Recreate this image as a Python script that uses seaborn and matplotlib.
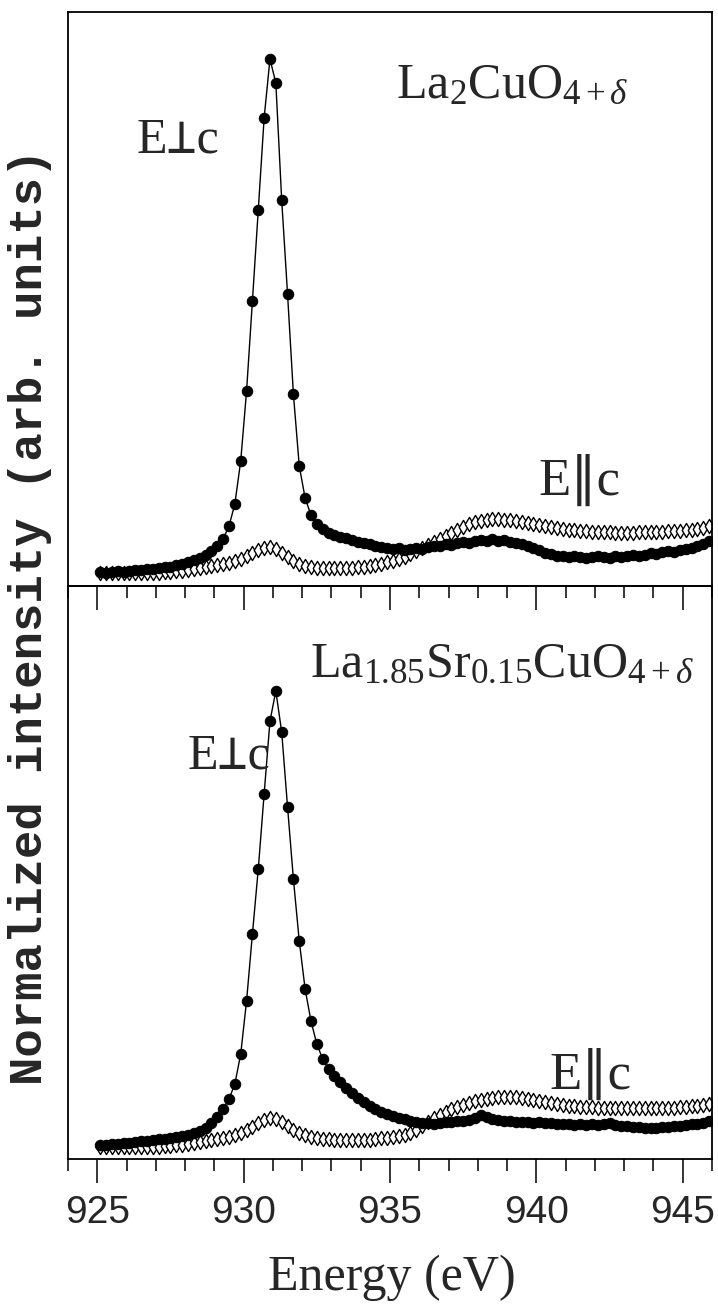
import matplotlib
matplotlib.use('Agg')
import numpy as np
import matplotlib.pyplot as plt
import seaborn as sns
from matplotlib.ticker import MultipleLocator

# measurement grid (eV), 0.2 eV steps
energy = np.round(np.arange(925.1, 945.95, 0.2), 1)

# La2CuO4+d, intensities in arb. units
top_perp = [14, 13, 14, 15, 14, 15, 16, 16, 17, 17,
            18, 19, 19, 21, 22, 24, 26, 28, 31, 35,
            40, 47, 60, 82, 125, 195, 285, 376, 468, 527,
            503, 386, 292, 192, 120, 88, 71, 62, 57, 53,
            51, 49, 48, 46, 44, 43, 42, 40, 39, 38,
            37, 38, 36, 37, 38, 37, 39, 40, 40, 42,
            41, 43, 44, 43, 45, 46, 45, 47, 45, 46,
            44, 43, 42, 40, 38, 36, 33, 32, 30, 30,
            29, 30, 29, 28, 29, 30, 29, 28, 30, 29,
            30, 31, 30, 31, 33, 32, 34, 35, 34, 36,
            37, 38, 40, 42, 45]
top_par = [13, 13, 13, 13, 13, 13, 13, 13, 13, 13,
           13, 14, 14, 15, 15, 16, 17, 18, 19, 20,
           21, 22, 23, 25, 27, 30, 33, 36, 38, 39,
           37, 33, 29, 25, 22, 20, 19, 18, 18, 18,
           18, 18, 18, 18, 19, 19, 20, 21, 22, 24,
           25, 27, 29, 32, 35, 38, 41, 44, 47, 50,
           53, 56, 59, 62, 64, 65, 66, 67, 67, 66,
           66, 65, 64, 63, 62, 61, 60, 59, 58, 57,
           56, 56, 55, 55, 54, 54, 54, 54, 53, 53,
           53, 53, 54, 54, 54, 54, 54, 55, 55, 55,
           56, 56, 57, 58, 60]

# La1.85Sr0.15CuO4+d
bot_perp = [14, 14, 15, 15, 16, 16, 17, 18, 18, 19,
            20, 20, 21, 22, 23, 24, 26, 28, 31, 36,
            42, 50, 60, 75, 105, 158, 225, 290, 365, 438,
            468, 427, 352, 280, 218, 170, 138, 115, 100, 90,
            83, 77, 71, 66, 61, 57, 53, 50, 47, 45,
            43, 41, 40, 38, 37, 36, 36, 35, 36, 37,
            37, 38, 38, 39, 41, 44, 42, 40, 39, 38,
            38, 37, 37, 37, 36, 37, 36, 36, 35, 35,
            35, 34, 35, 34, 35, 34, 35, 36, 34, 33,
            33, 32, 32, 31, 31, 31, 32, 32, 33, 33,
            34, 35, 35, 36, 38]
bot_par = [12, 12, 12, 12, 12, 12, 12, 12, 12, 12,
           12, 13, 13, 14, 14, 15, 16, 17, 18, 19,
           20, 21, 22, 24, 26, 29, 32, 36, 39, 41,
           40, 37, 33, 29, 26, 24, 22, 21, 20, 20,
           19, 19, 19, 19, 19, 19, 19, 20, 21, 21,
           22, 23, 24, 26, 29, 33, 37, 41, 44, 47,
           50, 52, 54, 56, 58, 59, 60, 61, 62, 62,
           62, 62, 61, 60, 59, 58, 57, 56, 55, 54,
           53, 53, 52, 52, 52, 51, 51, 51, 51, 51,
           51, 51, 51, 51, 51, 51, 51, 51, 51, 52,
           52, 53, 53, 54, 55]

panels = [
    (top_perp, top_par, 574, r'La$_2$CuO$_{4+\delta}$',
     (0.509, 0.850), (0.107, 0.756), (0.730, 0.159)),
    (bot_perp, bot_par, 573, r'La$_{1.85}$Sr$_{0.15}$CuO$_{4+\delta}$',
     (0.376, 0.841), (0.186, 0.682), (0.747, 0.122)),
]

sns.set_style('ticks')
plt.rcParams['mathtext.fontset'] = 'custom'
plt.rcParams['mathtext.rm'] = 'Liberation Serif'
plt.rcParams['mathtext.it'] = 'Liberation Serif:italic'
plt.rcParams['mathtext.bf'] = 'Liberation Serif:bold'

SERIF = ['Liberation Serif', 'DejaVu Sans Mono', 'DejaVu Sans']

fig = plt.figure(figsize=(7.18, 13.04), dpi=100)
ax_top = fig.add_axes([68 / 718, 1 - 586 / 1304, 644 / 718, 574 / 1304])
ax_bot = fig.add_axes([68 / 718, 1 - 1159 / 1304, 644 / 718, 573 / 1304])

for ax, (perp, par, ymax, formula, fpos, ppos, lpos) in zip([ax_top, ax_bot], panels):
    ax.set_facecolor('none')
    # open diamonds: E || c
    sns.scatterplot(x=energy, y=par, marker='d', s=52, color='white',
                    edgecolor='black', linewidth=1.0, ax=ax, zorder=2)
    # filled circles + line: E perp c
    sns.lineplot(x=energy, y=perp, color='black', linewidth=1.0, marker='o',
                 markersize=7.5, markeredgecolor='black', markerfacecolor='black',
                 ax=ax, zorder=3)
    ax.set_xlim(924, 946)
    ax.set_ylim(0, ymax)
    ax.set_yticks([])
    ax.set_xlabel('')
    ax.set_ylabel('')
    ax.xaxis.set_major_locator(MultipleLocator(5))
    ax.xaxis.set_minor_locator(MultipleLocator(1))
    ax.tick_params(axis='x', which='major', direction='out', length=17,
                   width=1.1, color='black', pad=9)
    ax.tick_params(axis='x', which='minor', direction='out', length=8.5,
                   width=1.1, color='black')
    for sp in ax.spines.values():
        sp.set_visible(True)
        sp.set_color('black')
        sp.set_linewidth(1.3)

    ax.text(*fpos, formula, transform=ax.transAxes, fontsize=36,
            family=SERIF, ha='left', va='baseline')
    ax.text(*ppos, 'E\u22a5c', transform=ax.transAxes, fontsize=36,
            family=SERIF, ha='left', va='baseline')
    ax.text(*lpos, 'E\u2225c', transform=ax.transAxes, fontsize=38,
            family=SERIF, ha='left', va='baseline')

ax_top.tick_params(labelbottom=False)
for lab in ax_bot.get_xticklabels():
    lab.set_family(['Liberation Sans', 'DejaVu Sans'])
    lab.set_fontsize(28)

fig.text(392 / 718, 1 - 1290 / 1304, 'Energy (eV)', fontsize=36,
         family=SERIF, ha='center', va='baseline')
fig.text(30 / 718, 1 - 617 / 1304, 'Normalized intensity (arb. units)',
         fontsize=34, family=['Liberation Mono', 'DejaVu Sans Mono'],
         fontweight='bold', rotation=90, ha='center', va='center')

fig.savefig('out.png', dpi=100, facecolor='white')
